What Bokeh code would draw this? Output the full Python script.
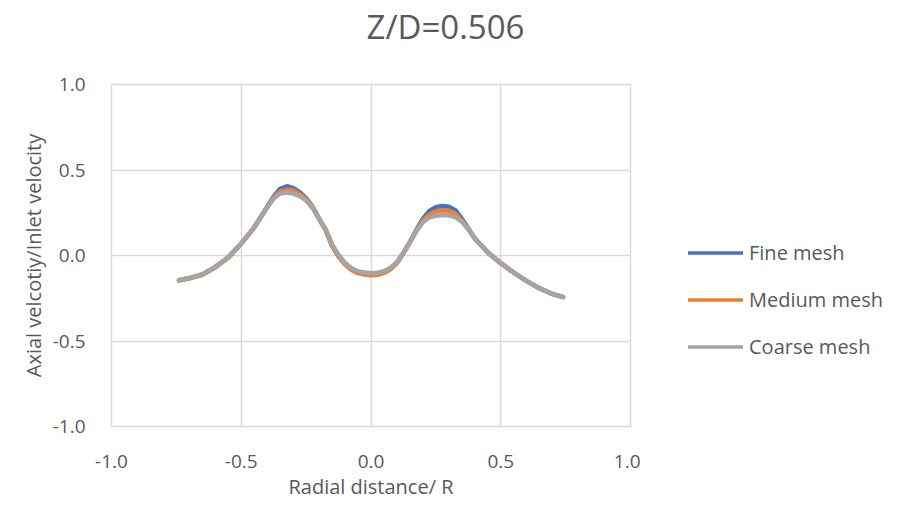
from bokeh.plotting import figure
from bokeh.models import Legend, LegendItem, FixedTicker, Range1d, Label
from bokeh.layouts import row, column
from bokeh.embed import file_html
from bokeh.resources import INLINE

# ---- data ----
radial = [-0.74, -0.70, -0.65, -0.60, -0.55, -0.50, -0.45, -0.40, -0.375, -0.35, -0.325, -0.30,
          -0.275, -0.25, -0.225, -0.20, -0.175, -0.15, -0.125, -0.10, -0.075, -0.05, -0.025, 0.00,
          0.025, 0.05, 0.075, 0.10, 0.125, 0.15, 0.175, 0.20, 0.225, 0.25, 0.275, 0.30, 0.325,
          0.35, 0.375, 0.40, 0.45, 0.50, 0.55, 0.60, 0.65, 0.70, 0.74]
fine_mesh = [-0.145, -0.133, -0.112, -0.068, -0.012, 0.070, 0.165, 0.285, 0.345, 0.390, 0.405, 0.395,
             0.370, 0.335, 0.285, 0.215, 0.150, 0.058, -0.005, -0.050, -0.082, -0.100, -0.108, -0.113,
             -0.110, -0.100, -0.078, -0.042, 0.015, 0.080, 0.150, 0.215, 0.260, 0.282, 0.290, 0.285, 0.265,
             0.215, 0.158, 0.100, 0.018, -0.045, -0.100, -0.150, -0.193, -0.226, -0.243]
medium_mesh = [-0.146, -0.134, -0.113, -0.069, -0.013, 0.069, 0.163, 0.280, 0.338, 0.375, 0.385, 0.380,
               0.360, 0.330, 0.283, 0.213, 0.150, 0.058, -0.006, -0.052, -0.085, -0.103, -0.111, -0.116,
               -0.113, -0.102, -0.080, -0.044, 0.013, 0.077, 0.145, 0.205, 0.240, 0.258, 0.265, 0.262, 0.245,
               0.205, 0.155, 0.099, 0.018, -0.045, -0.100, -0.150, -0.193, -0.226, -0.243]
coarse_mesh = [-0.143, -0.131, -0.109, -0.065, -0.009, 0.072, 0.166, 0.282, 0.335, 0.362, 0.368, 0.362,
               0.347, 0.322, 0.278, 0.215, 0.155, 0.066, 0.003, -0.043, -0.075, -0.092, -0.100, -0.104,
               -0.101, -0.092, -0.072, -0.038, 0.017, 0.078, 0.142, 0.195, 0.222, 0.233, 0.237, 0.235, 0.224,
               0.198, 0.152, 0.100, 0.020, -0.043, -0.099, -0.149, -0.192, -0.225, -0.242]
series = [fine_mesh, medium_mesh, coarse_mesh]
series_names = ["Fine mesh", "Medium mesh", "Coarse mesh"]
series_colors = ["#4472C4", "#ED7D31", "#A5A5A5"]
tick_values = [-1.0, -0.5, 0.0, 0.5, 1.0]
title_text = "Z/D=0.506"

FONT = "Open Sans"
TXT = "#595959"
GRID = "#D9D9D9"
LW = 4.5


def blank_figure(w, h, **kw):
    f = figure(width=w, height=h, output_backend="svg", toolbar_location=None, title=None,
               x_axis_type=None, y_axis_type=None, **kw)
    f.outline_line_color = None
    f.xgrid.visible = False
    f.ygrid.visible = False
    f.background_fill_color = "white"
    f.border_fill_color = "white"
    return f


# ---- title strip ----
tf = blank_figure(894, 48, x_range=Range1d(0, 1), y_range=Range1d(0, 1),
                  min_border_left=0, min_border_right=0, min_border_top=0, min_border_bottom=0)
tf.add_layout(Label(x=445, y=22, x_units="screen", y_units="screen", text=title_text,
                    text_align="center", text_baseline="middle",
                    text_font=FONT, text_font_size="33px", text_color=TXT))

# ---- main chart ----
p = figure(width=640, height=460, output_backend="svg", toolbar_location=None,
           x_range=Range1d(-1, 1), y_range=Range1d(-1, 1),
           min_border_left=111, min_border_right=10, min_border_top=29, min_border_bottom=82,
           title=None)
p.background_fill_color = "white"
p.border_fill_color = "white"
p.outline_line_color = GRID
p.outline_line_width = 1.5

for ax in (p.xaxis[0], p.yaxis[0]):
    ax.ticker = FixedTicker(ticks=tick_values)
    ax.major_label_overrides = {v: f"{v:.1f}" for v in tick_values}
    ax.axis_line_color = None
    ax.major_tick_line_color = None
    ax.minor_tick_line_color = None
    ax.major_label_text_font = FONT
    ax.major_label_text_font_size = "19px"
    ax.major_label_text_color = TXT
    ax.axis_label_text_font = FONT
    ax.axis_label_text_font_size = "20px"
    ax.axis_label_text_color = TXT
    ax.axis_label_text_font_style = "normal"

p.xaxis.axis_label = "Radial distance/ R"
p.yaxis.axis_label = "Axial velcotiy/Inlet velocity"
p.xaxis.major_label_standoff = 22
p.xaxis.axis_label_standoff = 2
p.yaxis.major_label_standoff = 20
p.yaxis.axis_label_standoff = 3

p.xgrid.grid_line_color = GRID
p.ygrid.grid_line_color = GRID
p.xgrid.grid_line_width = 1.5
p.ygrid.grid_line_width = 1.5

for ys, col in zip(series, series_colors):
    p.line(radial, ys, line_color=col, line_width=LW, line_join="round", line_cap="round")

# ---- legend strip (same series, ranges set so only the legend shows) ----
lg = blank_figure(254, 460, x_range=Range1d(10, 11), y_range=Range1d(10, 11),
                  min_border_left=0, min_border_right=0, min_border_top=36, min_border_bottom=0)
items = []
for name, ys, col in zip(series_names, series, series_colors):
    r = lg.line(radial, ys, line_color=col, line_width=3.5, line_cap="round")
    items.append(LegendItem(label=name, renderers=[r]))

legend = Legend(items=items, location=(48, 66), orientation="vertical",
                glyph_width=55, glyph_height=27, label_height=27, spacing=20,
                label_standoff=6, padding=0, margin=0,
                border_line_alpha=0, background_fill_alpha=0,
                label_text_font=FONT, label_text_font_size="20px", label_text_color=TXT)
lg.add_layout(legend)

layout = column(tf, row(p, lg, spacing=0), spacing=0)
open("out.html", "w").write(file_html(layout, INLINE))
